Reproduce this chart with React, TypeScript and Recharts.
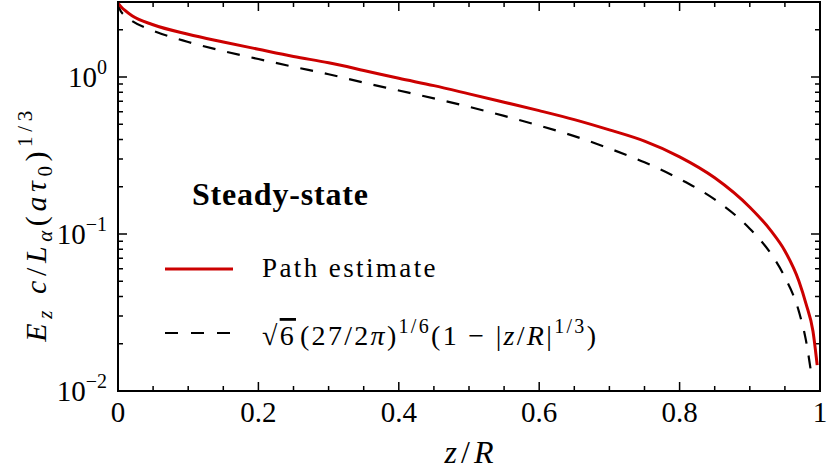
import { LineChart, Line, XAxis, YAxis, Legend } from 'recharts';

const zPath = [0, 0.005, 0.01, 0.02, 0.05, 0.1, 0.15, 0.2, 0.25, 0.3, 0.35, 0.4, 0.45, 0.5, 0.55, 0.6, 0.65, 0.7, 0.75, 0.8, 0.85, 0.9, 0.93, 0.95, 0.97, 0.98, 0.99, 0.996];
const pathEstimate = [2.95, 2.78, 2.65, 2.45, 2.15, 1.87, 1.67, 1.5, 1.35, 1.23, 1.1, 0.98, 0.88, 0.78, 0.69, 0.61, 0.535, 0.46, 0.39, 0.31, 0.228, 0.148, 0.105, 0.078, 0.05, 0.036, 0.024, 0.0146];

const zApprox = [0, 0.002, 0.01, 0.02, 0.05, 0.1, 0.15, 0.2, 0.25, 0.3, 0.35, 0.4, 0.45, 0.5, 0.55, 0.6, 0.65, 0.7, 0.75, 0.8, 0.85, 0.9, 0.93, 0.95, 0.97, 0.98, 0.988];
const steadyApprox = [3.0, 2.73, 2.45, 2.27, 1.97, 1.67, 1.46, 1.3, 1.16, 1.04, 0.92, 0.82, 0.73, 0.645, 0.565, 0.49, 0.42, 0.35, 0.286, 0.224, 0.166, 0.108, 0.075, 0.053, 0.032, 0.021, 0.0125];

const xTicks = [0, 0.05, 0.1, 0.15, 0.2, 0.25, 0.3, 0.35, 0.4, 0.45, 0.5, 0.55, 0.6, 0.65, 0.7, 0.75, 0.8, 0.85, 0.9, 0.95, 1];
const xLabels = { 0: '0', 0.2: '0.2', 0.4: '0.4', 0.6: '0.6', 0.8: '0.8', 1: '1' };
const yTicks = [0.01, 0.02, 0.03, 0.04, 0.05, 0.06, 0.07, 0.08, 0.09, 0.1, 0.2, 0.3, 0.4, 0.5, 0.6, 0.7, 0.8, 0.9, 1, 2, 3];
const yLabels = { 0.01: '\u22122', 0.1: '\u22121', 1: '0' };

const X_MIN = 0;
const X_MAX = 1;
const Y_MIN = 0.01;
const Y_MAX = 3;

const W = 830;
const H = 475;
const PLOT = { left: 118, top: 2, width: 702, height: 389 };

const pathData = zPath.map((z, i) => ({ z, e: pathEstimate[i] }));
const approxData = zApprox.map((z, i) => ({ z, e: steadyApprox[i] }));

const FONT = 'Liberation Serif';
const RED = '#cc0000';

const BottomTick = ({ x, y, payload }) => {
  const label = xLabels[payload.value];
  if (label === undefined) return <g />;
  return (
    <text x={x} y={y + 31} textAnchor="middle" fontSize={29} fontFamily={FONT} fill="#000">
      {label}
    </text>
  );
};

const LeftTick = ({ x, y, payload }) => {
  const exp = yLabels[payload.value];
  if (exp === undefined) return <g />;
  return (
    <text x={x - 11} y={y + 10} textAnchor="end" fontSize={29} fontFamily={FONT} fill="#000">
      10<tspan fontSize={20} dy={-13}>{exp}</tspan>
    </text>
  );
};

// axes box with inward ticks on all four sides (same linear / log mapping as the axes)
const xPix = (t) => PLOT.left + ((t - X_MIN) / (X_MAX - X_MIN)) * PLOT.width;
const yPix = (v) =>
  PLOT.top + (PLOT.height * (Math.log10(Y_MAX) - Math.log10(v))) / (Math.log10(Y_MAX) - Math.log10(Y_MIN));

const Frame = () => {
  const bottom = PLOT.top + PLOT.height;
  const right = PLOT.left + PLOT.width;
  let d = '';
  xTicks.forEach((t) => {
    const len = xLabels[t] !== undefined ? 9 : 5;
    const x = xPix(t);
    d += `M${x},${bottom}V${bottom - len}M${x},${PLOT.top}V${PLOT.top + len}`;
  });
  yTicks.forEach((t) => {
    const len = yLabels[t] !== undefined ? 9 : 5;
    const y = yPix(t);
    d += `M${PLOT.left},${y}H${PLOT.left + len}M${right},${y}H${right - len}`;
  });
  return (
    <g>
      <path d={d} stroke="#000" strokeWidth={1.5} fill="none" />
      <rect x={PLOT.left} y={PLOT.top} width={PLOT.width} height={PLOT.height} stroke="#000" strokeWidth={2} fill="none" />
    </g>
  );
};

const LegendBox = () => (
  <svg width={470} height={190} style={{ overflow: 'visible' }}>
    <text x={32} y={35} fontSize={32} fontWeight="bold" fontFamily={FONT} letterSpacing={0.8} fill="#000">
      Steady-state
    </text>
    <line x1={5} x2={73} y1={99} y2={99} stroke={RED} strokeWidth={3} />
    <text x={102} y={107} fontSize={27} fontFamily={FONT} letterSpacing={2.4} fill="#000">
      Path estimate
    </text>
    <line x1={5} x2={73} y1={163} y2={163} stroke="#000" strokeWidth={2.2} strokeDasharray="13 13" />
    <text x={102} y={175} fontSize={28} fontFamily={FONT} fill="#000" letterSpacing={2.3}>
      <tspan>{'\u221A'}</tspan>
      <tspan textDecoration="overline">6</tspan>
      <tspan dx={4}>(27/2</tspan>
      <tspan fontStyle="italic">{'\u03C0'}</tspan>
      <tspan>)</tspan>
      <tspan fontSize={20} dy={-12}>1/6</tspan>
      <tspan dy={12}>(1 {'\u2212'} |</tspan>
      <tspan fontStyle="italic">z</tspan>
      <tspan>/</tspan>
      <tspan fontStyle="italic">R</tspan>
      <tspan>|</tspan>
      <tspan fontSize={20} dy={-12}>1/3</tspan>
      <tspan dy={12}>)</tspan>
    </text>
  </svg>
);

const XLabel = () => (
  <text x={471} y={463} textAnchor="middle" fontSize={32} fontFamily={FONT} letterSpacing={4} fill="#000">
    <tspan fontStyle="italic">z</tspan>
    <tspan>/</tspan>
    <tspan fontStyle="italic">R</tspan>
  </text>
);

const YLabel = () => (
  <text transform="rotate(-90)" x={-224} y={46} textAnchor="middle" fontSize={30} fontFamily={FONT} letterSpacing={4.6} fill="#000">
    <tspan fontStyle="italic">E</tspan>
    <tspan fontStyle="italic" fontSize={21} dy={6}>z</tspan>
    <tspan fontStyle="italic" dy={-6}> c</tspan>
    <tspan>/</tspan>
    <tspan fontStyle="italic">L</tspan>
    <tspan fontStyle="italic" fontSize={21} dy={6}>{'\u03B1'}</tspan>
    <tspan dy={-6}>(</tspan>
    <tspan fontStyle="italic">a{'\u03C4'}</tspan>
    <tspan fontSize={21} dy={6}>0</tspan>
    <tspan dy={-6}>)</tspan>
    <tspan fontSize={21} dy={-14}>1/3</tspan>
  </text>
);

export default function App() {
  return (
    <div style={{ position: 'absolute', left: 0, top: 0, width: W, height: H, background: '#fff' }}>
      <LineChart
        width={W}
        height={H}
        margin={{ top: PLOT.top, right: W - PLOT.left - PLOT.width, bottom: 0, left: 0 }}
      >
        <XAxis
          dataKey="z"
          type="number"
          domain={[X_MIN, X_MAX]}
          ticks={xTicks}
          interval={0}
          height={H - PLOT.top - PLOT.height}
          tickSize={0}
          tickMargin={0}
          tickLine={false}
          tick={BottomTick}
          axisLine={{ stroke: '#000', strokeWidth: 2 }}
        />
        <YAxis
          scale="log"
          type="number"
          domain={[Y_MIN, Y_MAX]}
          ticks={yTicks}
          interval={0}
          width={PLOT.left}
          tickSize={0}
          tickMargin={0}
          tickLine={false}
          tick={LeftTick}
          axisLine={{ stroke: '#000', strokeWidth: 2 }}
        />
        <Line
          data={approxData}
          dataKey="e"
          type="monotone"
          stroke="#000"
          strokeWidth={2.2}
          strokeDasharray="13 12"
          dot={false}
          activeDot={false}
          isAnimationActive={false}
        />
        <Line
          data={pathData}
          dataKey="e"
          type="monotone"
          stroke={RED}
          strokeWidth={3}
          dot={false}
          activeDot={false}
          isAnimationActive={false}
        />
        <Legend
          layout="vertical"
          align="center"
          verticalAlign="middle"
          content={LegendBox}
          wrapperStyle={{ position: 'absolute', left: 160, top: 170, width: 470, height: 190 }}
        />
        <Frame />
        <XLabel />
        <YLabel />
      </LineChart>
    </div>
  );
}
